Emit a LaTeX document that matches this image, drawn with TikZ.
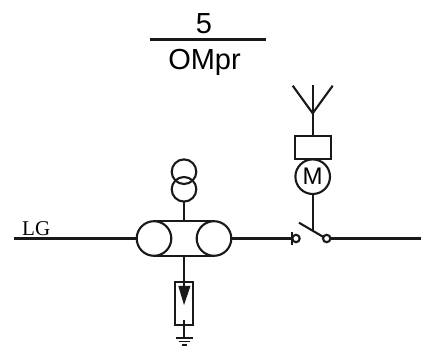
\documentclass[tikz,border=0pt]{standalone}
\usepackage{fontspec}
\setmainfont{Liberation Sans}
\newfontfamily\serifLG{Liberation Serif}
\usetikzlibrary{arrows,positioning,shapes}
\usepackage{xcolor}

\tikzset{
    wire/.style={line width=2.1pt, black!90},
    ring/.style={circle, draw, wire, inner sep=0pt, outer sep=0pt},
    box/.style={rectangle, draw, wire, inner sep=0pt, outer sep=0pt}
}

\begin{document}
\begin{tikzpicture}[x=1pt, y=-1pt]
    \useasboundingbox (0, 0) rectangle (421, 347);

    % title
    \node (title_five) [font=\fontsize{29}{29}\selectfont, anchor=base] at (204, 33.7) {5};
    \node (title_ompr) [font=\fontsize{29}{29}\selectfont, anchor=base] at (204.5, 70) {OMpr};
    \coordinate (title_left) at (150, 39.5);
    \coordinate (title_right) at (266, 39.5);
    \draw[wire] (title_left) to (title_right);

    % feeder
    \node (feeder_label) [font=\serifLG\fontsize{21}{21}\selectfont, anchor=base west, inner sep=0pt] at (22, 235.3) {LG};
    \coordinate (feeder_start) at (14, 238.5);
    \coordinate (feeder_end) at (421, 238.5);

    % measuring unit
    \node (tube_left) [ring, minimum size=34.6pt] at (154, 238.5) {};
    \node (tube_right) [ring, minimum size=34.6pt] at (214, 238.5) {};
    \draw[wire] (tube_left.north) to (tube_right.north);
    \draw[wire] (tube_left.south) to (tube_right.south);
    \coordinate (tube_top) at (184, 221.2);
    \coordinate (tube_bottom) at (184, 255.8);
    \draw[wire] (feeder_start) to (tube_left.west);

    % transformer
    \node (trafo_up) [ring, minimum size=24.6pt] at (184, 171.7) {};
    \node (trafo_low) [ring, minimum size=24.6pt] at (184, 189.3) {};
    \draw[wire] (trafo_low.south) to (tube_top);

    % arrester
    \node (arrester) [box, minimum width=17.4pt, minimum height=43pt] at (184, 303.2) {};
    \coordinate (arrester_in) at (184, 286);
    \coordinate (arrester_out) at (184, 320);
    \coordinate (arrester_tip) at (184, 305);
    \coordinate (arrester_a) at (178.3, 286);
    \coordinate (arrester_b) at (190.5, 286);
    \draw[wire] (tube_bottom) to (arrester_in);
    \fill[black!90] (arrester_a) -- (arrester_b) -- (arrester_tip) -- cycle;

    % ground
    \coordinate (ground) at (184, 338);
    \draw[wire] (arrester_out) to (ground);
    \draw[wire, line width=1.6pt] (176, 338) -- (192.5, 338);
    \draw[wire, line width=1.6pt] (178.5, 341.5) -- (189.5, 341.5);
    \draw[wire, line width=1.6pt] (181.5, 345) -- (186.5, 345);

    % switch
    \node (contact_left) [ring, minimum size=7.4pt] at (296, 238.5) {};
    \node (contact_right) [ring, minimum size=7.4pt] at (326.7, 238.5) {};
    \coordinate (stop_top) at (291.7, 232);
    \coordinate (stop_bottom) at (291.7, 245.5);
    \coordinate (blade_start) at (299, 222.7);
    \coordinate (blade_end) at (323.4, 237);
    \coordinate (blade_mid) at (312.7, 230.7);
    \draw[wire] (tube_right.east) to (contact_left.west);
    \draw[wire] (stop_top) to (stop_bottom);
    \draw[wire] (blade_start) to (blade_end);
    \draw[wire] (contact_right.east) to (feeder_end);

    % motor drive
    \node (motor) [ring, minimum size=34.6pt] at (312.7, 176.7) {};
    \node (motor_label) [font=\fontsize{24}{24}\selectfont, inner sep=0pt] at (312.7, 176.7) {M};
    \node (coil) [box, minimum width=36pt, minimum height=23pt] at (312.7, 147.5) {};
    \draw[wire] (motor.south) to (blade_mid);

    % antenna
    \coordinate (aerial_root) at (312.7, 113.3);
    \coordinate (aerial_left) at (292.7, 85.7);
    \coordinate (aerial_mid) at (312.7, 85);
    \coordinate (aerial_right) at (332.7, 85.7);
    \draw[wire] (aerial_root) to (coil.north);
    \draw[wire] (aerial_left) to (aerial_root);
    \draw[wire] (aerial_right) to (aerial_root);
    \draw[wire] (aerial_mid) to (aerial_root);
\end{tikzpicture}
\end{document}
